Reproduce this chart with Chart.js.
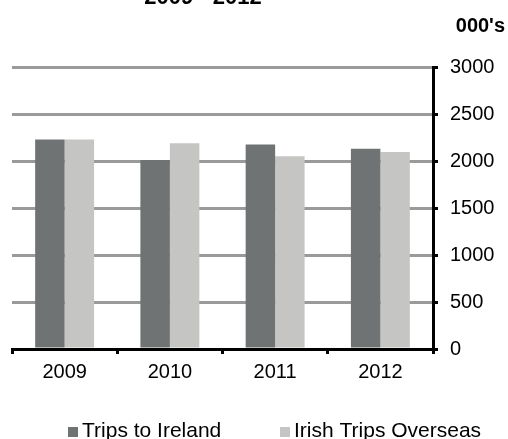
<!DOCTYPE html>
<html>
<head>
<meta charset="utf-8">
<script src="https://cdn.jsdelivr.net/npm/chart.js@4"></script>
<style>
  html, body { margin: 0; padding: 0; background: #fff; }
  #wrap { position: relative; width: 508px; height: 439px; }
</style>
</head>
<body>
<div id="wrap"><canvas id="chart"></canvas></div>
<script>
const years = ["2009", "2010", "2011", "2012"];
const tripsToIreland = [2230, 2010, 2175, 2130];
const irishTripsOverseas = [2230, 2190, 2050, 2095];
const seriesNames = ["Trips to Ireland", "Irish Trips Overseas"];
const seriesColors = ["#707373", "#c5c5c3"];

const FONT = "'Liberation Sans', Arial, sans-serif";

// title (cut off at top), units label, legend
const extras = {
    id: 'extras',
    afterDraw(chart) {
        const ctx = chart.ctx;
        ctx.save();
        ctx.fillStyle = "#000";
        ctx.font = "bold 22px " + FONT;
        ctx.textAlign = "center";
        ctx.textBaseline = "alphabetic";
        ctx.fillText("2009 - 2012", 203, 4);
        ctx.font = "bold 20px " + FONT;
        ctx.textAlign = "right";
        ctx.fillText("000's", 505, 32);

        ctx.font = "21px " + FONT;
        ctx.textAlign = "left";
        const xs = [68, 280];
        chart.data.datasets.forEach((ds, i) => {
            ctx.fillStyle = ds.backgroundColor;
            ctx.fillRect(xs[i], 427, 10, 10);
            ctx.fillStyle = "#000";
            ctx.fillText(ds.label, xs[i] + 14, 437);
        });
        ctx.restore();
    }
};

new Chart(document.getElementById("chart"), {
    type: 'bar',
    data: {
        labels: years,
        datasets: [
            { label: seriesNames[0], data: tripsToIreland, backgroundColor: seriesColors[0] },
            { label: seriesNames[1], data: irishTripsOverseas, backgroundColor: seriesColors[1] }
        ]
    },
    options: {
        responsive: true,
        maintainAspectRatio: false,
        animation: false,
        categoryPercentage: 0.56,
        barPercentage: 1,
        layout: { padding: { left: 12, right: 0, top: 67, bottom: 0 } },
        plugins: {
            legend: { display: false },
            title: { display: false },
            tooltip: { enabled: false }
        },
        scales: {
            x: {
                grid: {
                    drawOnChartArea: false,
                    drawTicks: true,
                    tickLength: 5,
                    tickColor: "#000",
                    tickWidth: 3
                },
                border: { color: "#000", width: 3 },
                ticks: { color: "#000", font: { family: FONT, size: 20 }, padding: 6 },
                afterFit(scale) { scale.height = 90; }
            },
            y: {
                position: 'right',
                min: 0,
                max: 3000,
                ticks: {
                    stepSize: 500,
                    color: "#000",
                    font: { family: FONT, size: 20 },
                    padding: 12,
                    callback: v => String(v)
                },
                grid: {
                    color: "#9a9a9a",
                    lineWidth: 3,
                    drawTicks: true,
                    tickLength: 5,
                    tickColor: "#000",
                    tickWidth: 3
                },
                border: { color: "#000", width: 3 },
                afterFit(scale) { scale.width = 75; }
            }
        }
    },
    plugins: [extras]
});
</script>
</body>
</html>
